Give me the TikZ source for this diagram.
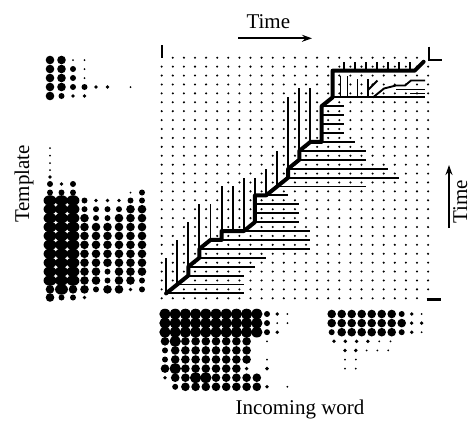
\documentclass[tikz,border=0pt]{standalone}
\usepackage{fontspec}
\setmainfont{Liberation Serif}
\usetikzlibrary{arrows.meta}
% one row of spectrogram blobs: x0, dx, y, list of sizes (0..5)
\newcommand\blobrow[4]{%
  \foreach \s [count=\k from 0] in {#4}{%
    \ifnum\s=5
      \fill (#1+#2*\k,#3) ellipse[x radius={0.56*#2pt}, y radius=5.3pt];
    \else\ifnum\s>0
      \pgfmathsetmacro\rr{{0,1.0,1.9,3.0,4.3}[\s]}%
      \fill (#1+#2*\k,#3) circle[radius=\rr pt];
    \fi\fi
  }}
\begin{document}
\begin{tikzpicture}[x=1pt,y=-1pt,
  thinln/.style={line width=1.9pt},
  thickln/.style={line width=4pt, line join=round, line cap=round},
  cornermk/.style={line width=2.2pt},
  axarrow/.style={line width=1.8pt, -{Stealth[length=10pt,width=7pt]}},
  lbl/.style={font=\fontsize{21}{24}\selectfont, inner sep=0pt}]
\useasboundingbox (0,0) rectangle (472,421);

% lattice of points
\foreach \i in {0,...,24}{
  \foreach \j in {0,...,27}{
    \pgfmathtruncatemacro\dotoff{(\i==0 && \j==27) || (\i==24 && (\j==27 || \j==0))}
    \ifnum\dotoff=0
      \fill (161.7+11.1*\i, 298.3-8.91*\j) circle[radius=1.15pt];
    \fi
  }}

% corner marks
\draw[cornermk] (161.7,45) -- (161.7,58);
\draw[cornermk] (429.3,46.5) -- (429.3,60) -- (442,60);
\draw[line width=2.6pt] (426.5,299.5) -- (440.5,299.5);

% warping paths in lattice units
\coordinate (O) at (166.1,293.4);
\begin{scope}[shift={(O)}, x=11.1pt, y=8.91pt]
  \foreach \va/\vb/\vc in {0/0/4, 1/1/6, 2/3/8, 3/5/10, 4/6/10, 5/7/12, 6/7/12,
      7/7/13, 8/11/13, 9/11/14, 10/12/16, 11/14/22, 12/16/23, 13/17/23}
    \draw[thinln] (\va,\vb) -- (\va,\vc);
  \foreach \va in {16,...,22}
    \draw[thinln] (\va,25) -- (\va,26);
  \foreach \hb/\ha/\hc in {0/0/7, 1/1/7, 2/2/7, 3/2/8, 4/3/9, 5/3/13, 6/4/13,
      7/5/13, 8/8/12, 9/8/12, 10/8/12, 11/8/11, 12/10/18, 13/11/21, 14/11/20,
      15/12/18, 16/12/18, 17/13/17, 18/14/16, 19/14/16, 20/14/16, 21/14/16, 22/15/23.3}
    \draw[thinln] (\ha,\hb) -- (\hc,\hb);
  \draw[thickln] (0,0) -- (2,2) -- (2,3) -- (3,4) -- (3,5) -- (4,6) -- (5,6)
    -- (5,7) -- (7,7) -- (8,8) -- (8,11) -- (9,11) -- (11,13) -- (11,14)
    -- (12,15) -- (12,16) -- (13,17) -- (14,17) -- (14,21) -- (15,22)
    -- (15,25) -- (22.4,25) -- (23.2,26);
\end{scope}

% branches inside the upper region
\draw[thinln] (340.5,97.4) -- (340.5,76);
\draw[thinln] (347.5,97.4) -- (347.5,76);
\draw[thinln] (357.5,97.4) -- (357.5,79);
\draw[thinln] (368,97.4) -- (368,79) (368,90) -- (377.5,80.5);
\draw[thinln, line join=round] (373,97.4) -- (384,88.5) -- (396,85.5) -- (405,85.5)
  -- (411,80.5) -- (425,80.5);
\draw[thinln] (396,89.5) -- (425,89.5);
\draw[thinln] (410,93.5) -- (425,93.5);

% template spectrogram, upper part
\blobrow{50}{11.5}{60}{4,4,1,1}
\blobrow{50}{11.5}{69}{4,4,3,1}
\blobrow{50}{11.5}{78}{4,4,3,1}
\blobrow{50}{11.5}{87}{4,4,3,3,2,2,0,1}
\blobrow{50}{11.5}{96}{4,3,2,2}
% template spectrogram, main part
\blobrow{50}{11.5}{148}{1}
\blobrow{50}{11.5}{155.5}{1}
\blobrow{50}{11.5}{163}{1}
\blobrow{50}{11.5}{170}{1}
\blobrow{50}{11.5}{177}{2}
\blobrow{50}{11.5}{184}{3,2,3}
\blobrow{50}{11.5}{192.5}{3,3,3,0,0,0,0,1,3}
\blobrow{50}{11.5}{200.5}{5,5,5,3,2,2,2,3,3}
\blobrow{50}{11.5}{209.2}{5,5,5,3,3,3,3,4,4}
\blobrow{50}{11.5}{218.1}{5,5,5,4,3,3,4,4,4}
\blobrow{50}{11.5}{227.0}{5,5,5,4,4,4,4,4,4}
\blobrow{50}{11.5}{235.9}{5,5,5,4,4,4,4,4,4}
\blobrow{50}{11.5}{244.8}{5,5,5,4,4,4,4,4,4}
\blobrow{50}{11.5}{253.8}{5,5,5,4,4,4,4,4,4}
\blobrow{50}{11.5}{262.7}{5,5,5,4,4,4,4,4,4}
\blobrow{50}{11.5}{271.6}{5,5,5,4,4,3,4,4,4}
\blobrow{50}{11.5}{280.5}{5,5,5,4,4,3,4,4,3}
\blobrow{50}{11.5}{289.4}{4,5,4,4,3,4,4,2,3}
\blobrow{50}{11.5}{297.5}{4,3,3,2}

% incoming word spectrogram, first part
\blobrow{165}{10.2}{314}{5,5,5,5,5,5,5,5,5,5,3,2,1}
\blobrow{165}{10.2}{323.1}{5,5,5,5,5,5,5,5,5,5,3,1,1}
\blobrow{165}{10.2}{332.2}{5,5,5,5,5,5,5,5,5,5,3,2}
\blobrow{165}{10.2}{341.3}{4,5,4,4,4,4,4,4,4,0,1}
\blobrow{165}{10.2}{350.4}{3,4,4,4,4,4,4,4,4}
\blobrow{165}{10.2}{359.5}{3,4,4,4,4,4,4,4,4,0,1}
\blobrow{165}{10.2}{368.6}{4,5,4,4,4,4,4,4,2,0,2}
\blobrow{165}{10.2}{377.7}{2,4,4,5,5,4,4,4,4,4}
\blobrow{165}{10.2}{386.8}{0,3,4,4,4,4,4,4,4,4,2,0,1}
% incoming word spectrogram, second part
\blobrow{331.7}{10}{314}{4,4,4,4,4,4,4,3,2,1}
\blobrow{331.7}{10}{323.1}{4,4,4,4,4,4,4,4,2,2}
\blobrow{331.7}{10}{332.2}{3,4,4,4,4,4,4,3,2,1}
\blobrow{334}{11.3}{341.3}{2,2,2,2,1,1}
\blobrow{345}{10.8}{350.4}{2,2,1,1,1}
\blobrow{345}{10.8}{359.5}{1,1}
\blobrow{345}{10.8}{368.6}{1,1}

% axes labels and arrows
\node[lbl, anchor=base] (ttop) at (268.3,28.3) {Time};
\coordinate (ta) at (238,38.3);
\coordinate (tb) at (312,38.3);
\draw[axarrow] (ta) -- (tb);
\node[lbl, anchor=base, rotate=90] (tright) at (467,201.5) {Time};
\coordinate (ra) at (449,228);
\coordinate (rb) at (449,165);
\draw[axarrow] (ra) -- (rb);
\node[lbl, anchor=base, rotate=90] (tmpl) at (29,184) {Template};
\node[lbl, anchor=base] (inc) at (300,414) {Incoming word};
\end{tikzpicture}
\end{document}
